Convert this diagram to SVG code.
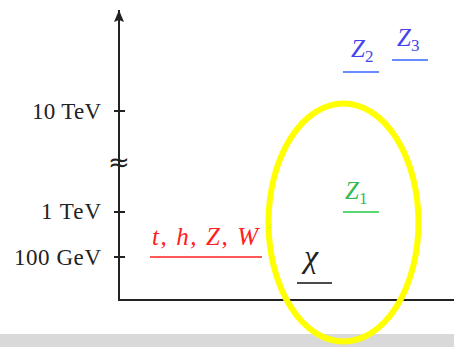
<svg xmlns="http://www.w3.org/2000/svg" width="454" height="347" viewBox="0 0 454 347">
<style>
.ax{stroke:#222;stroke-width:2;fill:none}
.lbl{font-family:"Liberation Serif",serif;font-size:23px;fill:#222;text-anchor:end}
.m{font-family:"Liberation Serif",serif;font-style:italic;font-size:25px}
.sub{font-family:"Liberation Serif",serif;font-size:17px;font-style:normal}
</style>
<defs>
<marker id="ah" markerWidth="14" markerHeight="12" refX="12" refY="5" orient="auto" markerUnits="userSpaceOnUse">
<path d="M0,0 L12,5 L0,10 L2,5 Z" fill="#222"/>
</marker>
</defs>
<rect x="0" y="334" width="454" height="13" fill="#d9d9d9"/>
<g id="axes">
<line class="ax" x1="119" y1="300" x2="119" y2="10" marker-end="url(#ah)"/>
<line class="ax" x1="118" y1="300" x2="454" y2="300"/>
<line class="ax" x1="114" y1="111" x2="125" y2="111"/>
<line class="ax" x1="114" y1="212" x2="125" y2="212"/>
<line class="ax" x1="114" y1="257" x2="125" y2="257"/>
<text x="119" y="171" font-family="DejaVu Sans,sans-serif" font-size="26" text-anchor="middle" fill="#222">≈</text>
<text class="lbl" x="101" y="119" textLength="69" lengthAdjust="spacing">10 TeV</text>
<text class="lbl" x="101" y="219" textLength="60" lengthAdjust="spacing">1 TeV</text>
<text class="lbl" x="101" y="265" textLength="87" lengthAdjust="spacing">100 GeV</text>
</g>
<g id="sm">
<line x1="150" y1="257" x2="262" y2="257" stroke="#ff2020" stroke-width="1.5"/>
<text class="m" x="152" y="245" fill="#ff2020" textLength="106" lengthAdjust="spacing">t, h, Z, W</text>
</g>
<g id="chi">
<line x1="297" y1="283" x2="332" y2="283" stroke="#111" stroke-width="1.5"/>
<text class="m" x="304" y="267" fill="#222" style="font-size:32px">χ</text>
</g>
<g id="z1">
<line x1="343" y1="212" x2="379" y2="212" stroke="#22cc44" stroke-width="1.5"/>
<text class="m" x="345" y="199" fill="#33bb55">Z<tspan class="sub" dy="5">1</tspan></text>
</g>
<g id="z2">
<line x1="343" y1="72" x2="379" y2="72" stroke="#3366ff" stroke-width="1.5"/>
<text class="m" x="351" y="57" fill="#4444ee">Z<tspan class="sub" dy="5">2</tspan></text>
</g>
<g id="z3">
<line x1="392" y1="60" x2="428" y2="60" stroke="#3366ff" stroke-width="1.5"/>
<text class="m" x="397" y="46" fill="#4444ee">Z<tspan class="sub" dy="5">3</tspan></text>
</g>
<g id="ellipse">
<ellipse cx="343.5" cy="222.5" rx="75" ry="119" fill="none" stroke="#ffff00" stroke-width="6"/>
</g>
</svg>
